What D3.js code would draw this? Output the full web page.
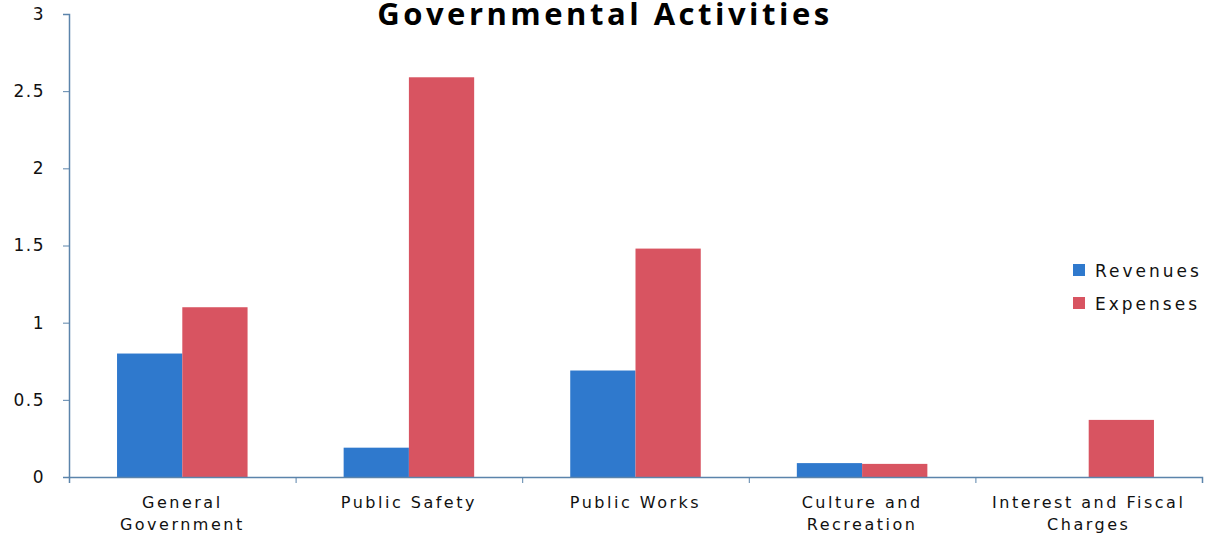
<!DOCTYPE html>
<html>
<head>
<meta charset="utf-8">
<script src="https://cdn.jsdelivr.net/npm/d3@7"></script>
<style>
  body { margin: 0; background: #fff; }
  svg { display: block; }
</style>
</head>
<body>
<div id="app"></div>
<script>
'use strict'

// chart data
const categories = [
	['General', 'Government'],
	['Public Safety'],
	['Public Works'],
	['Culture and', 'Recreation'],
	['Interest and Fiscal', 'Charges']
]
const revenues = [0.8, 0.19, 0.69, 0.09, 0]
const expenses = [1.1, 2.59, 1.48, 0.085, 0.37]
const seriesNames = ['Revenues', 'Expenses']
const yTicks = [0, 0.5, 1, 1.5, 2, 2.5, 3]

const colors = ['#2f79cd', '#d85461']

const W = 1205, H = 534
const margin = { top: 14, right: 3, bottom: 57, left: 69 }
const width = W - margin.left - margin.right
const height = H - margin.top - margin.bottom

const svg = d3.select('#app').append('svg')
	.attr('width', W)
	.attr('height', H)
	.style('font-family', '"DejaVu Sans", Verdana, sans-serif')

const g = svg.append('g')
	.attr('transform', `translate(${margin.left}, ${margin.top})`)

const keys = categories.map((d, i) => i)

const xScale = d3.scaleBand()
	.domain(keys)
	.range([0, width])
	.paddingInner(0)
	.paddingOuter(0)

const xInner = d3.scaleBand()
	.domain(seriesNames)
	.range([0, xScale.bandwidth() * 0.576])

const yScale = d3.scaleLinear()
	.domain([0, 3])
	.range([height, 0])

// y axis
const yAxis = g.append('g')
	.call(d3.axisLeft(yScale).tickValues(yTicks).tickSize(6).tickPadding(18)
		.tickFormat(d => d3.format('')(d)))
yAxis.select('.domain').attr('stroke', '#5b84ab').attr('stroke-width', 1.5)
yAxis.selectAll('.tick line').attr('stroke', '#5b84ab')
yAxis.selectAll('.tick text')
	.attr('fill', '#111')
	.attr('font-size', 17)
	.style('letter-spacing', '1.5px')
	.attr('font-family', '"DejaVu Sans", Verdana, sans-serif')

// bars
const groupOffset = (xScale.bandwidth() - xInner.range()[1]) / 2
const rows = keys.map(i => ({ i, values: [revenues[i], expenses[i]] }))

const groups = g.selectAll('.cat')
	.data(rows)
	.enter().append('g')
	.attr('class', 'cat')
	.attr('transform', d => `translate(${xScale(d.i) + groupOffset}, 0)`)

groups.selectAll('rect')
	.data(d => d.values.map((v, j) => ({ key: seriesNames[j], v, j })))
	.enter().append('rect')
	.attr('x', d => xInner(d.key))
	.attr('y', d => yScale(d.v))
	.attr('width', xInner.bandwidth())
	.attr('height', d => height - yScale(d.v))
	.attr('fill', d => colors[d.j])

// x axis
const xAxis = g.append('g')
	.attr('transform', `translate(0, ${height})`)
	.call(d3.axisBottom(d3.scaleLinear().domain([0, keys.length]).range([0, width]))
		.tickValues(d3.range(keys.length + 1)).tickSize(6).tickFormat(''))
xAxis.select('.domain').attr('stroke', '#5b84ab').attr('stroke-width', 1.5)
xAxis.selectAll('.tick line').attr('stroke', '#5b84ab')

// category labels
const labels = g.selectAll('.xlabel')
	.data(rows)
	.enter().append('text')
	.attr('class', 'xlabel')
	.attr('x', d => xScale(d.i) + xScale.bandwidth() / 2)
	.attr('y', height + 31)
	.attr('text-anchor', 'middle')
	.style('font-size', '16px')
	.style('letter-spacing', '2.5px')
	.attr('fill', '#111')

labels.selectAll('tspan')
	.data(d => categories[d.i])
	.enter().append('tspan')
	.attr('x', function() { return d3.select(this.parentNode).attr('x') })
	.attr('dy', (d, k) => k === 0 ? 0 : 22)
	.text(d => d)

// title
svg.append('text')
	.attr('x', 605)
	.attr('y', 25)
	.attr('text-anchor', 'middle')
	.style('font-family', '"Open Sans", sans-serif')
	.style('font-weight', 'bold')
	.style('font-size', '31px')
	.style('letter-spacing', '3.5px')
	.attr('fill', '#000')
	.text('Governmental Activities')

// legend
const legend = svg.append('g')
	.attr('transform', 'translate(1073, 264)')

const items = legend.selectAll('.item')
	.data(seriesNames)
	.enter().append('g')
	.attr('class', 'item')
	.attr('transform', (d, i) => `translate(0, ${i * 33})`)

items.append('rect')
	.attr('width', 12)
	.attr('height', 12)
	.attr('fill', (d, i) => colors[i])

items.append('text')
	.attr('x', 22)
	.attr('y', 13)
	.style('font-size', '17px')
	.style('letter-spacing', '3px')
	.attr('fill', '#111')
	.text(d => d)
</script>
</body>
</html>
